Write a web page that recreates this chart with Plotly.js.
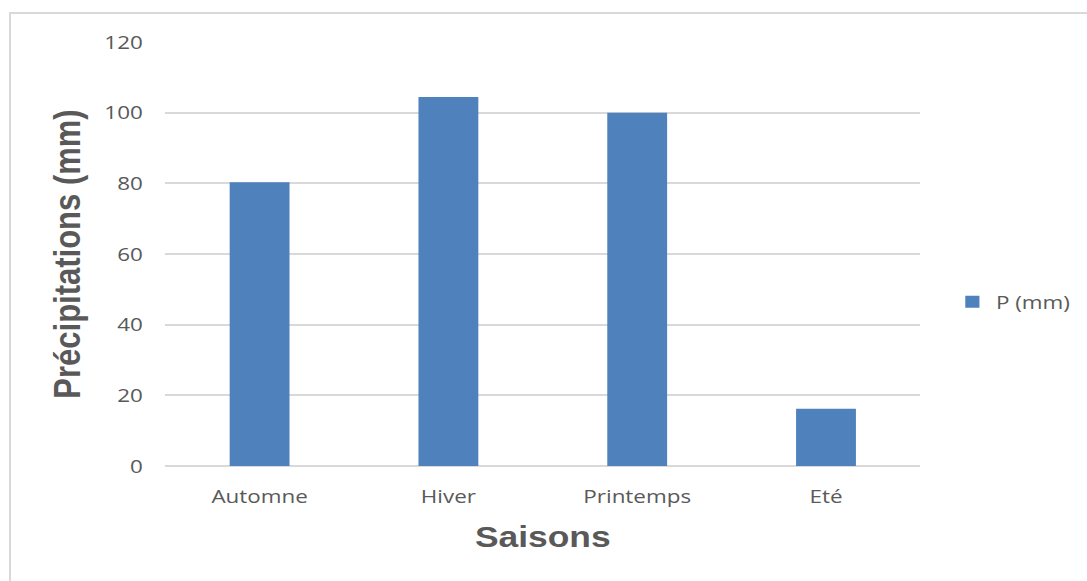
<!DOCTYPE html>
<html>
<head>
<meta charset="utf-8">
<script src="https://cdn.plot.ly/plotly-3.0.1.min.js"></script>
<style>
  html, body { margin: 0; padding: 0; background: #ffffff; overflow: hidden; }
  body { width: 1087px; height: 581px; position: relative; }
  #frame {
    position: absolute; left: 9px; top: 12px; width: 1200px; height: 700px;
    border-left: 2px solid #d9d9d9; border-top: 2px solid #d9d9d9;
    pointer-events: none;
  }
  /* the chart is laid out narrower and widened to the page width */
  #chart {
    position: absolute; left: 0; top: 0; width: 921px; height: 581px;
    transform-origin: 0 0; transform: scaleX(1.18);
  }
</style>
</head>
<body>
<div id="chart"></div>
<div id="frame"></div>
<script>
// Seasonal precipitation totals
const seasons = ["Automne", "Hiver", "Printemps", "Eté"];
const precipitation = [80.3, 104.4, 100.0, 16.2];
const seriesName = "P (mm)";
const yTicks = [0, 20, 40, 60, 80, 100, 120];

const grey = "#595959";

const trace = {
  type: "bar",
  name: seriesName,
  x: seasons,
  y: precipitation,
  marker: { color: "#4f81bd" },
  showlegend: true,
  hoverinfo: "x+y"
};

const layout = {
  width: 921,
  height: 581,
  margin: { l: 140, r: 141, t: 42, b: 115 },
  paper_bgcolor: "#ffffff",
  plot_bgcolor: "#ffffff",
  bargap: 0.683,
  font: { family: "Open Sans, sans-serif", color: grey },
  showlegend: true,
  legend: {
    xref: "container", x: 0.873, xanchor: "left",
    yref: "paper", y: 0.387, yanchor: "middle",
    font: { family: "Open Sans, sans-serif", size: 19, color: grey },
    bgcolor: "rgba(0,0,0,0)"
  },
  xaxis: {
    type: "category",
    categoryorder: "array",
    categoryarray: seasons,
    showgrid: false,
    showline: false,
    zeroline: false,
    ticks: "",
    ticklabelstandoff: 17,
    tickfont: { family: "Open Sans, sans-serif", size: 19, color: grey },
    title: {
      text: "Saisons",
      font: { family: "Liberation Sans, Arial, sans-serif", size: 30, color: grey, weight: "bold" },
      standoff: 18
    },
    automargin: false
  },
  yaxis: {
    range: [0, 120],
    tickvals: yTicks,
    ticktext: yTicks.map(String),
    showgrid: true,
    gridcolor: "#d9d9d9",
    gridwidth: 2,
    zeroline: true,
    zerolinecolor: "#d9d9d9",
    zerolinewidth: 2,
    showline: false,
    ticks: "",
    ticklabelstandoff: 18,
    tickfont: { family: "Open Sans, sans-serif", size: 19, color: grey },
    title: {
      text: "Précipitations (mm)",
      font: { family: "Liberation Sans, Arial, sans-serif", size: 31, color: grey, weight: "bold" },
      standoff: 10
    },
    automargin: false
  }
};

Plotly.newPlot("chart", [trace], layout, { staticPlot: true, displayModeBar: false });
</script>
</body>
</html>
